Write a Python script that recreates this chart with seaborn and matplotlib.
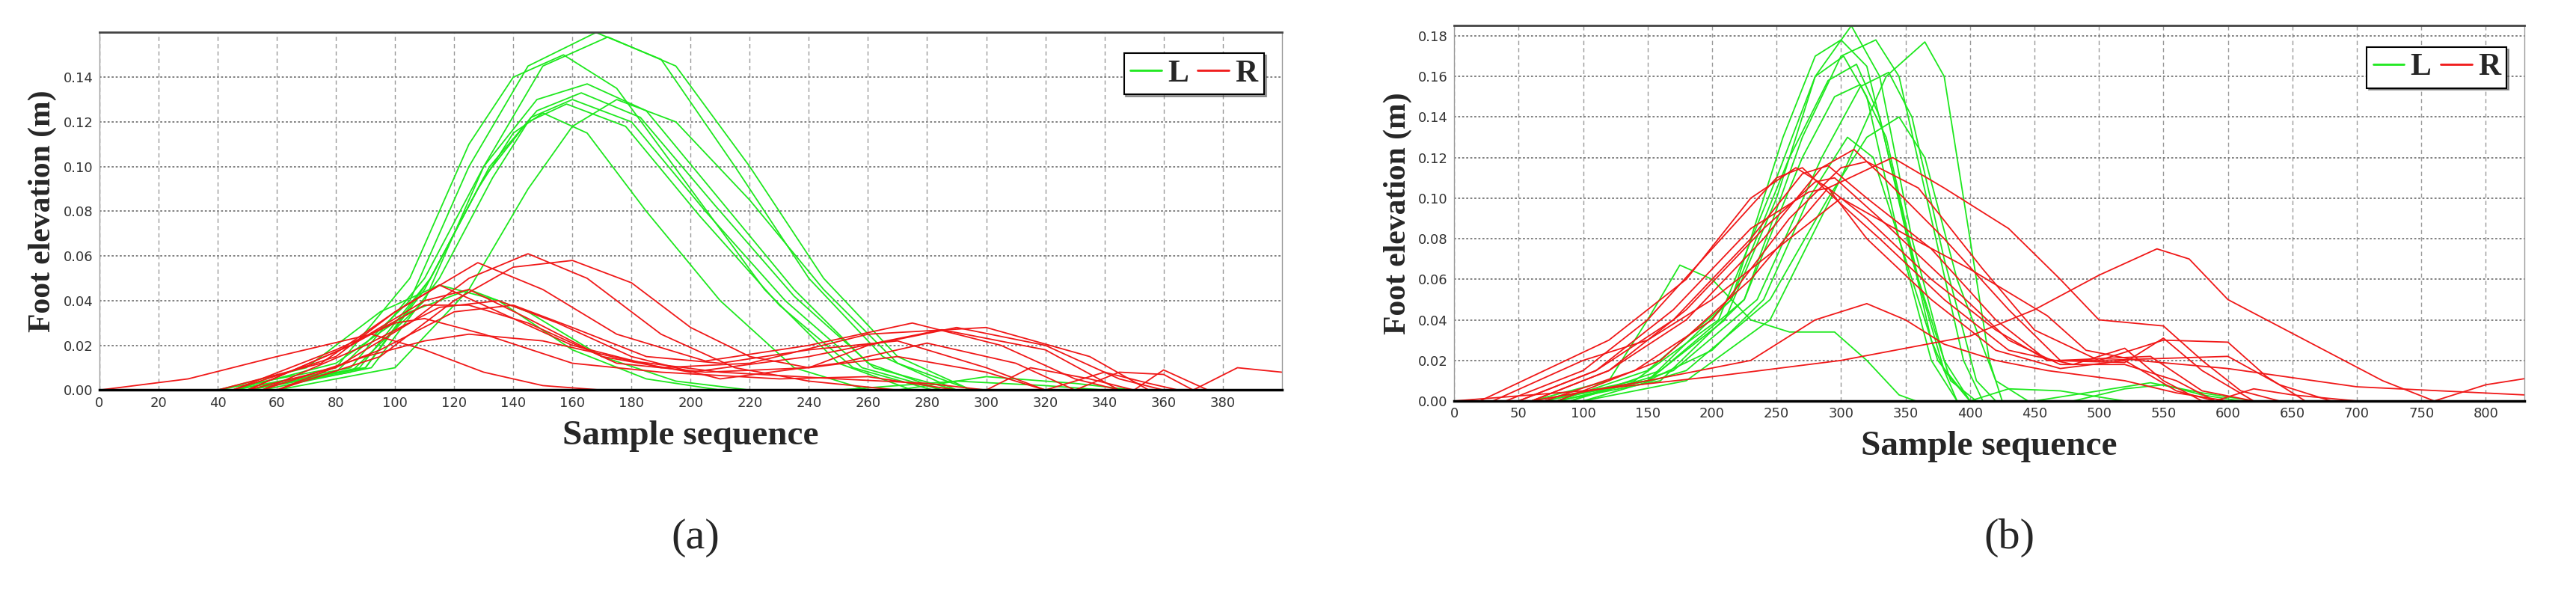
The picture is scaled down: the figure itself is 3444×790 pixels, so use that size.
import pandas as pd
import matplotlib
matplotlib.use("Agg")
import matplotlib.pyplot as plt
import seaborn as sns

# panel (a) curves: keypoints (sample, elevation)
A_LEFT = [
    [(45,0),(80,.008),(105,.04),(125,.10),(145,.145),(168,.160),(190,.148),(215,.10),(240,.05),(265,.015),(290,0)],
    [(50,0),(85,.008),(110,.04),(130,.10),(150,.145),(172,.158),(195,.145),(220,.10),(245,.05),(270,.015),(295,0)],
    [(40,0),(80,.01),(105,.05),(125,.11),(140,.14),(157,.150),(175,.135),(200,.09),(225,.045),(250,.012),(275,0)],
    [(45,0),(85,.01),(110,.05),(130,.10),(148,.13),(165,.137),(185,.125),(210,.085),(235,.045),(260,.012),(285,0)],
    [(50,0),(90,.01),(112,.05),(132,.10),(148,.125),(163,.133),(183,.122),(208,.083),(235,.042),(262,.01),(290,0)],
    [(50,0),(88,.01),(112,.05),(130,.095),(146,.122),(160,.130),(180,.12),(205,.08),(232,.04),(258,.01),(285,0)],
    [(55,0),(92,.01),(115,.05),(133,.095),(145,.12),(158,.128),(178,.118),(203,.078),(230,.038),(255,.01),(282,0)],
    [(60,0),(100,.01),(125,.045),(145,.09),(160,.118),(175,.130),(195,.12),(220,.085),(245,.045),(270,.012),(295,0)],
    [(50,0),(90,.01),(110,.045),(128,.09),(140,.115),(150,.124),(165,.115),(185,.08),(210,.04),(235,.01),(260,0)],
    [(40,0),(70,.01),(95,.035),(115,.047),(135,.04),(160,.018),(185,.005),(210,0)],
    [(45,0),(80,.012),(105,.035),(125,.045),(145,.035),(170,.015),(195,.004),(220,0)],
    [(270,0),(300,.006),(330,.003),(350,0)],
    [(250,0),(290,.004),(320,.002),(340,0)],
]
A_RIGHT = [
    [(50,0),(80,.01),(105,.03),(125,.05),(145,.061),(165,.05),(190,.025),(215,.01),(240,.004),(270,0)],
    [(60,0),(95,.015),(120,.04),(140,.055),(160,.058),(180,.048),(200,.028),(220,.015),(240,.01),(260,.02),(290,.028),(320,.02),(345,.005),(360,0)],
    [(40,0),(75,.012),(100,.035),(128,.057),(150,.045),(175,.025),(205,.013),(240,.02),(275,.030),(305,.02),(330,.005),(345,0)],
    [(45,0),(80,.015),(100,.035),(115,.047),(135,.035),(160,.02),(190,.01),(220,.012),(260,.025),(300,.028),(335,.015),(355,0)],
    [(50,0),(85,.02),(110,.04),(125,.045),(145,.032),(170,.015),(200,.008),(240,.015),(285,.027),(320,.018),(345,0)],
    [(55,0),(90,.02),(115,.037),(135,.040),(155,.03),(180,.015),(210,.005),(250,.012),(280,.021),(310,.012),(330,0)],
    [(50,0),(85,.02),(110,.038),(125,.038),(145,.03),(175,.012),(205,.008),(240,.01),(270,.015),(300,.008),(320,0)],
    [(45,0),(80,.018),(100,.03),(110,.032),(130,.025),(160,.012),(190,.008),(230,.005),(260,.006),(290,0)],
    [(55,0),(90,.015),(110,.022),(125,.025),(150,.022),(180,.013),(210,.008),(250,.005),(280,.003),(300,0)],
    [(0,0),(30,.005),(60,.015),(92,.025),(110,.018),(130,.008),(150,.002),(170,0)],
    [(60,0),(95,.018),(120,.035),(140,.038),(160,.028),(185,.015),(210,.012),(240,.018),(270,.022),(300,.01),(320,0)],
    [(300,0),(315,.01),(335,.005),(350,0)],
    [(330,0),(345,.008),(360,.007),(370,0)],
    [(350,0),(360,.009),(375,0)],
    [(370,0),(385,.01),(400,.008)],
    [(320,0),(340,.008),(355,.003),(365,0)],
]

# panel (b) curves
B_LEFT = [
    [(60,0),(150,.01),(210,.04),(250,.1),(280,.16),(308,.185),(330,.16),(355,.08),(380,.02),(400,0)],
    [(70,0),(150,.01),(215,.05),(255,.13),(280,.17),(300,.178),(320,.165),(345,.1),(370,.03),(390,0)],
    [(80,0),(160,.01),(225,.05),(270,.13),(300,.17),(327,.178),(345,.16),(370,.09),(395,.02),(410,0)],
    [(100,0),(180,.01),(245,.04),(300,.11),(335,.16),(365,.177),(380,.16),(400,.08),(415,.02),(425,0)],
    [(70,0),(140,.01),(205,.04),(250,.11),(280,.16),(302,.170),(320,.15),(345,.08),(370,.02),(390,0)],
    [(80,0),(150,.015),(215,.05),(260,.12),(290,.158),(312,.166),(330,.14),(355,.07),(380,.015),(400,0)],
    [(90,0),(160,.015),(225,.05),(270,.12),(295,.15),(315,.156),(335,.13),(360,.06),(385,.01),(405,0)],
    [(90,0),(170,.015),(235,.05),(285,.12),(315,.155),(337,.162),(355,.14),(380,.07),(405,.01),(420,0)],
    [(100,0),(180,.015),(245,.05),(290,.1),(320,.13),(345,.14),(365,.12),(390,.06),(420,.01),(445,0)],
    [(60,0),(120,.01),(150,.04),(175,.067),(200,.06),(230,.04),(260,.034),(295,.034),(320,.02),(345,.003),(358,0)],
    [(80,0),(150,.01),(200,.025),(240,.05),(275,.10),(305,.13),(325,.12),(350,.07),(375,.02),(400,0)],
    [(400,0),(430,.006),(470,.005),(500,.002),(520,0)],
    [(480,0),(520,.006),(550,.008),(580,.003),(610,0)],
    [(450,0),(500,.005),(540,.009),(580,.004),(620,0)],
]
B_RIGHT = [
    [(20,0),(70,.015),(120,.03),(180,.06),(230,.1),(265,.115),(290,.105),(320,.08),(370,.05),(420,.025),(470,.016),(520,.02),(560,.005),(590,0)],
    [(40,0),(100,.015),(150,.04),(200,.075),(250,.11),(270,.115),(295,.1),(330,.08),(380,.05),(430,.025),(480,.018),(520,.026),(550,.01),(580,0)],
    [(50,0),(110,.015),(170,.04),(230,.08),(270,.112),(290,.116),(320,.1),(370,.075),(420,.04),(460,.02),(520,.019),(550,.031),(580,.015),(620,0)],
    [(60,0),(120,.015),(180,.04),(240,.08),(285,.115),(310,.124),(330,.112),(380,.08),(430,.045),(470,.02),(540,.022),(580,.005),(620,0)],
    [(70,0),(140,.015),(200,.04),(260,.09),(300,.115),(320,.118),(360,.105),(410,.065),(450,.035),(500,.02),(550,.03),(600,.029),(630,.012),(660,0)],
    [(80,0),(160,.02),(230,.06),(290,.105),(340,.120),(380,.105),(430,.085),(470,.06),(500,.04),(550,.037),(580,.02),(610,.005),(640,0)],
    [(60,0),(120,.015),(180,.045),(240,.085),(280,.108),(295,.110),(330,.09),(380,.06),(430,.03),(470,.018),(520,.018),(560,.01),(590,0)],
    [(50,0),(110,.015),(170,.045),(230,.085),(275,.103),(290,.105),(320,.09),(370,.06),(420,.035),(460,.02),(500,.02),(600,.022),(640,.008),(680,0)],
    [(60,0),(150,.01),(230,.02),(280,.04),(320,.048),(350,.04),(380,.028),(420,.02),(460,.015),(520,.01),(560,.004),(600,0)],
    [(0,0),(100,.005),(200,.012),(300,.02),(400,.032),(450,.045),(500,.062),(545,.075),(570,.07),(600,.05),(660,.03),(720,.01),(760,0),(800,.008),(830,.011)],
    [(30,0),(100,.02),(150,.03),(200,.05),(250,.075),(300,.1),(350,.082),(400,.065),(460,.042),(490,.025),(530,.02),(600,.016),(700,.007),(830,.003)],
    [(590,0),(620,.006),(650,.003),(700,0)],
]

A_XTICKS = list(range(0, 400, 20))
A_YTICKS = [0.0, 0.02, 0.04, 0.06, 0.08, 0.10, 0.12, 0.14]
B_XTICKS = list(range(0, 850, 50))
B_YTICKS = [0.0, 0.02, 0.04, 0.06, 0.08, 0.10, 0.12, 0.14, 0.16, 0.18]


def to_frame(left, right):
    rows = []
    for side, curves in (("L", left), ("R", right)):
        for i, c in enumerate(curves):
            for x, y in c:
                rows.append((side + str(i), side, x, y))
    return pd.DataFrame(rows, columns=["curve", "side", "x", "y"])


sns.set_theme(style="white")
tick_font = ["Liberation Sans Narrow", "DejaVu Sans"]
serif_bold = dict(family=["Liberation Serif", "DejaVu Serif"], weight="bold")

fig = plt.figure(figsize=(34.44, 7.9), dpi=100)
ax_a = fig.add_axes([0.0386, 0.340, 0.459, 0.605])
ax_b = fig.add_axes([0.5645, 0.3215, 0.4155, 0.635])


def draw(ax, left, right, xlim, ylim, xticks, yticks, tag, tag_x):
    df = to_frame(left, right)
    sns.lineplot(data=df, x="x", y="y", units="curve", hue="side", estimator=None,
                 sort=False, palette={"L": "#1ee81e", "R": "#f01818"}, lw=1.3,
                 ax=ax, legend=False)
    ax.set_xlim(*xlim)
    ax.set_ylim(*ylim)
    ax.set_xticks(xticks)
    ax.set_yticks(yticks)
    ax.set_xticklabels([str(t) for t in xticks], family=tick_font, fontsize=13)
    ax.set_yticklabels(["%.2f" % t for t in yticks], family=tick_font, fontsize=13)
    ax.tick_params(length=3, pad=3, colors="#333333")
    ax.grid(True, axis="x", ls=(0, (4, 3)), color="#999999", lw=1)
    ax.grid(True, axis="y", ls=(0, (1.5, 1.5)), color="#777777", lw=1.3)
    for s in ax.spines.values():
        s.set_color("#999999")
        s.set_linewidth(1)
    ax.spines["top"].set_color("#444444")
    ax.spines["top"].set_linewidth(2)
    ax.spines["bottom"].set_color("black")
    ax.spines["bottom"].set_linewidth(2.5)
    ax.set_xlabel("Sample sequence", fontsize=34, labelpad=10, **serif_bold)
    ax.set_ylabel("Foot elevation (m)", fontsize=30, labelpad=6, **serif_bold)
    handles = [plt.Line2D([], [], color="#1ee81e", lw=2),
               plt.Line2D([], [], color="#f01818", lw=2)]
    leg = ax.legend(handles, ["L", "R"], ncol=2, loc="upper right", frameon=True,
                    fancybox=False, shadow=True, edgecolor="black", handlelength=1.0,
                    handletextpad=0.2, columnspacing=0.3, borderpad=0.2,
                    prop=dict(family=["Liberation Serif", "DejaVu Serif"], weight="bold", size=30),
                    bbox_to_anchor=(0.998, 0.985))
    leg.get_frame().set_linewidth(1.5)
    fig.text(tag_x, 0.09, tag, ha="center", va="center", fontsize=42,
             family=["Liberation Serif", "DejaVu Serif"])


draw(ax_a, A_LEFT, A_RIGHT, (0, 400), (0, 0.16), A_XTICKS, A_YTICKS, "(a)", 0.27)
draw(ax_b, B_LEFT, B_RIGHT, (0, 830), (0, 0.185), B_XTICKS, B_YTICKS, "(b)", 0.78)

fig.savefig("out.png", dpi=100, facecolor="white")
